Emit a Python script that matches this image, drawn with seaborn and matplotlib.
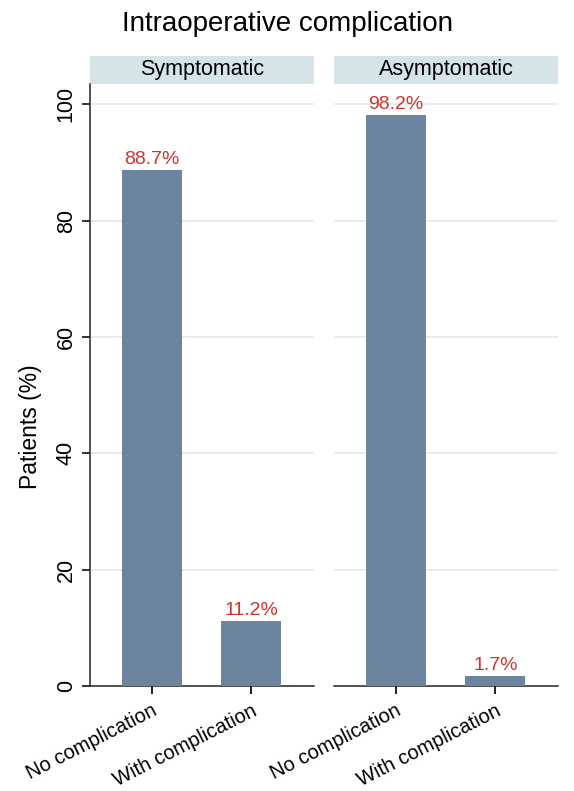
import numpy as np
import pandas as pd
import matplotlib
matplotlib.use('Agg')
import matplotlib.pyplot as plt
from matplotlib.patches import Rectangle
import seaborn as sns

# DATA
groups = ['Symptomatic', 'Asymptomatic']
categories = ['No complication', 'With complication']
symptomatic_pct = [88.7, 11.2]
asymptomatic_pct = [98.2, 1.7]
yticks = [0, 20, 40, 60, 80, 100]

df = pd.DataFrame({
    'group': np.repeat(groups, len(categories)),
    'category': categories * len(groups),
    'pct': symptomatic_pct + asymptomatic_pct,
})

sns.set_theme(style='white')
plt.rcParams['font.family'] = ['Liberation Sans', 'DejaVu Sans']
plt.rcParams['text.color'] = 'black'
plt.rcParams['axes.labelcolor'] = 'black'
plt.rcParams['xtick.color'] = 'black'
plt.rcParams['ytick.color'] = 'black'

bar_color = '#6c84a0'
strip_color = '#d4e4e9'
label_color = '#d0332c'

fig, axes = plt.subplots(1, 2, figsize=(5.74, 7.91), dpi=100, sharey=True)
fig.subplots_adjust(left=90/574, right=558/574, top=1 - 84/791, bottom=1 - 686/791, wspace=0.09)

for ax, grp in zip(axes, groups):
    sub = df[df['group'] == grp]
    sns.barplot(data=sub, x='category', y='pct', color=bar_color, width=0.6,
                saturation=1, linewidth=0, ax=ax, zorder=3)
    ax.set_xlim(-0.62, 1.63)
    ax.set_ylim(0, 103.5)
    ax.set_yticks(yticks)
    for y in yticks[1:]:
        ax.axhline(y, color='#e9e9e9', lw=1.2, zorder=1)
    for i, v in enumerate(sub['pct']):
        ax.text(i, v + 0.3, f'{v}%', color=label_color, ha='center', va='bottom', fontsize=14)
    ax.set_xlabel('')
    ax.set_ylabel('')
    ax.set_xticks(range(len(categories)))
    ax.set_xticklabels(categories, rotation=27, ha='right', rotation_mode='anchor', fontsize=14.5)
    ax.tick_params(axis='x', length=6, width=1.4, color='#222222', direction='out', bottom=True, pad=5)
    for s in ['top', 'right', 'left']:
        ax.spines[s].set_visible(False)
    ax.spines['bottom'].set_color('#222222')
    ax.spines['bottom'].set_linewidth(1.1)
    # strip header
    ax.add_patch(Rectangle((0, 1.0), 1, 28/602, transform=ax.transAxes, facecolor=strip_color,
                           edgecolor='none', clip_on=False))
    ax.text(0.5, 1.0 + 14/602, grp, transform=ax.transAxes, ha='center', va='center', fontsize=15.5)

axes[0].spines['left'].set_visible(True)
axes[0].spines['left'].set_color('#222222')
axes[0].spines['left'].set_linewidth(1.1)
axes[0].tick_params(axis='y', left=True, length=6, width=1.3, color='#222222', labelsize=15.5)
for lbl in axes[0].get_yticklabels():
    lbl.set_rotation(90)
    lbl.set_va('center')
axes[0].set_ylabel('Patients (%)', fontsize=16.5)
axes[0].yaxis.set_label_coords(-48/225, 0.43)
axes[1].tick_params(axis='y', left=False)

fig.suptitle('Intraoperative complication', fontsize=20, y=0.986)

plt.savefig('out.png', dpi=100)
